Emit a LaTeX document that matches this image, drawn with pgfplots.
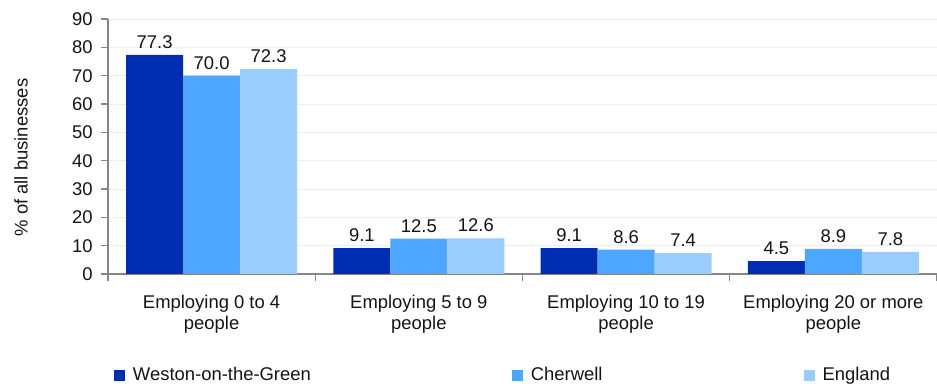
\documentclass[border=0pt]{standalone}
\usepackage{fontspec}
\setmainfont{Liberation Sans}
\usepackage{pgfplots}
\pgfplotsset{compat=1.18}
\definecolor{cA}{RGB}{0,46,178}
\definecolor{cB}{RGB}{77,166,255}
\definecolor{cC}{RGB}{153,204,255}
\definecolor{axgray}{RGB}{134,134,134}
\definecolor{gridgray}{RGB}{238,238,238}
\definecolor{txt}{RGB}{20,20,20}
\begin{document}
\fontsize{18.5}{21}\selectfont
\begin{tikzpicture}
\useasboundingbox (0,0) rectangle (937bp,384bp);
\begin{axis}[
  at={(108bp,110bp)}, anchor=south west, scale only axis,
  width=829bp, height=255bp,
  /pgf/number format/assume math mode=true,
  ybar=0pt, bar width=0.275,
  xmin=-0.5, xmax=3.5, ymin=0, ymax=90,
  axis lines=left,
  axis line style={-, draw=axgray, line width=1.2pt},
  ytick={0,10,...,90},
  xtick={0,1,2,3},
  xticklabels={{Employing 0 to 4\\people},{Employing 5 to 9\\people},{Employing 10 to 19\\people},{Employing 20 or more\\people}},
  xticklabel style={align=center, text=txt, yshift=-8bp},
  yticklabel style={text=txt, xshift=-2bp},
  major x tick style={draw=none},
  minor xtick={-0.5,0.5,1.5,2.5,3.5},
  tick align=outside,
  major tick length=7bp, minor tick length=7bp,
  tick style={draw=axgray, line width=1.2pt},
  ymajorgrids, major grid style={draw=gridgray, line width=1pt},
  ylabel={\% of all businesses},
  ylabel style={at={(axis description cs:-0.105,0.457)}, anchor=center, text=txt},
  nodes near coords,
  nodes near coords style={text=txt, /pgf/number format/.cd, fixed, fixed zerofill, precision=1},
  legend columns=3,
  legend image code/.code={\fill[#1] (0bp,-5.5bp) rectangle (11bp,5.5bp);},
  legend style={draw=none, fill=none, inner sep=0pt, outer sep=0pt,
    at={(axis description cs:0.0072,-0.398)}, anchor=west,
    nodes={inner sep=0pt, anchor=west, text=txt},
    /tikz/every odd column/.append style={column sep=8bp},
    /tikz/every even column/.append style={column sep=201bp}},
]
\addplot[fill=cA, draw=none] coordinates {(0,77.3) (1,9.1) (2,9.1) (3,4.5)};
\addplot[fill=cB, draw=none] coordinates {(0,70.0) (1,12.5) (2,8.6) (3,8.9)};
\addplot[fill=cC, draw=none] coordinates {(0,72.3) (1,12.6) (2,7.4) (3,7.8)};
\legend{Weston-on-the-Green, Cherwell, England}
\end{axis}
\end{tikzpicture}
\end{document}
